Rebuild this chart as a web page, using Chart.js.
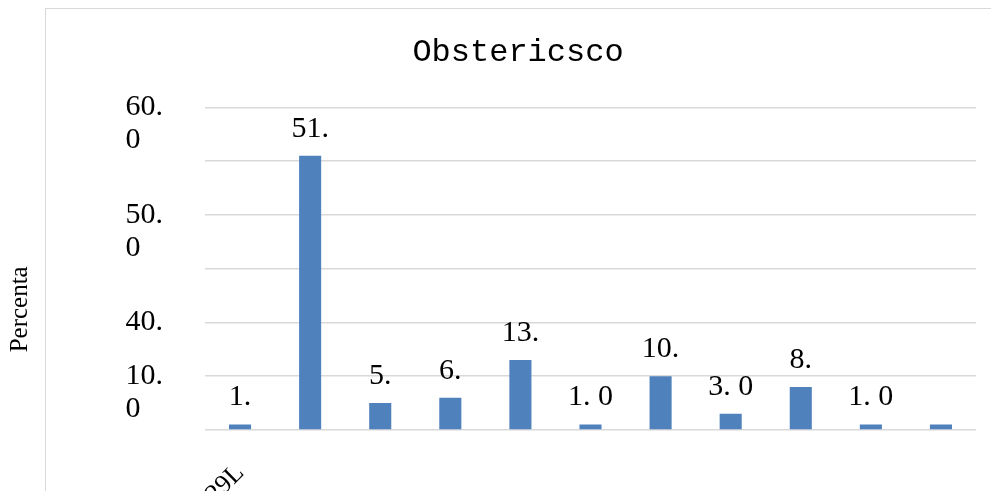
<!DOCTYPE html>
<html>
<head>
<meta charset="utf-8">
<script src="https://cdn.jsdelivr.net/npm/chart.js@4.4.1/dist/chart.umd.min.js"></script>
<style>
  html, body { margin: 0; padding: 0; background: #fff; overflow: hidden; }
  #wrap { position: relative; width: 991px; height: 491px; }
  #frame { position: absolute; left: 45px; top: 8px; width: 1000px; height: 600px;
           border: 1.5px solid #d9d9d9; box-sizing: border-box; }
  #chart { position: absolute; left: 0; top: 0; }
</style>
</head>
<body>
<div id="wrap">
  <div id="frame"></div>
  <canvas id="chart" width="991" height="491"></canvas>
</div>
<script>
// data
const categories = ["P29L", "", "", "", "", "", "", "", "", "", ""];
const percentValues = [1, 51, 5, 6, 13, 1, 10, 3, 8, 1, 1];
const valueLabels = ["1.", "51.", "5.", "6.", "13.", "1. 0", "10.", "3. 0", "8.", "1. 0", ""];

// y tick texts as printed in the picture (value -> lines)
const NB = "\u00a0\u00a0\u00a0";
const yTickValues = [0, 10, 20, 30, 40, 50, 60];
const yTickTexts = [[""], ["", "10.", "0" + NB], ["40."], [""], ["", "50.", "0" + NB], [""], ["", "60.", "0" + NB]];

const barLabelPlugin = {
    id: 'barLabels',
    afterDatasetsDraw( chart )
    {
        const ctx = chart.ctx;
        const meta = chart.getDatasetMeta(0);
        ctx.save();
        ctx.font = '30px "Liberation Serif"';
        ctx.fillStyle = '#000';
        ctx.textAlign = 'center';
        ctx.textBaseline = 'middle';
        meta.data.forEach(( bar, i ) =>
        {
            ctx.fillText( valueLabels[i], bar.x, bar.y - 27 );
        });
        ctx.restore();
    }
};

new Chart(document.getElementById("chart"), {
    type: 'bar',
    data: {
        labels: categories,
        datasets: [{
            data: percentValues,
            backgroundColor: '#4f81bd',
            borderWidth: 0,
            categoryPercentage: 1.0,
            barPercentage: 0.315
        }]
    },
    options: {
        responsive: false,
        animation: false,
        devicePixelRatio: 1,
        layout: { padding: { left: 60, right: 15, top: 0, bottom: 0 } },
        plugins: {
            legend: { display: false },
            tooltip: { enabled: false },
            title: {
                display: true,
                text: 'Obstericsco',
                color: '#000',
                font: { family: '"Liberation Mono"', size: 32, weight: 'normal' },
                padding: { top: 33, bottom: 36 }
            }
        },
        scales: {
            x: {
                grid: { display: false, drawTicks: false },
                border: { display: false },
                ticks: {
                    color: '#000',
                    font: { family: '"Liberation Serif"', size: 26 },
                    minRotation: 45,
                    maxRotation: 45,
                    autoSkip: false,
                    padding: 28
                },
                afterFit: ( axis ) =>
                {
                    axis.height = 61;
                    axis.paddingLeft = 0;
                    axis.paddingRight = 0;
                }
            },
            y: {
                min: 0,
                max: 60,
                grid: { color: '#d9d9d9', lineWidth: 1.6, drawTicks: false },
                border: { display: false },
                ticks: {
                    stepSize: 10,
                    autoSkip: false,
                    color: '#000',
                    padding: 42,
                    font: { family: '"Liberation Serif"', size: 30, lineHeight: 1.1 },
                    callback: ( value ) => yTickTexts[ yTickValues.indexOf(value) ]
                },
                title: {
                    display: true,
                    text: 'Percenta\u00a0\u00a0\u00a0\u00a0\u00a0\u00a0\u00a0\u00a0\u00a0\u00a0\u00a0\u00a0\u00a0',
                    color: '#000',
                    font: { family: '"Liberation Serif"', size: 25 },
                    padding: { top: -55, bottom: 0 }
                },
                afterFit: ( axis ) => { axis.width = 145; }
            }
        }
    },
    plugins: [ barLabelPlugin ]
});
</script>
</body>
</html>
